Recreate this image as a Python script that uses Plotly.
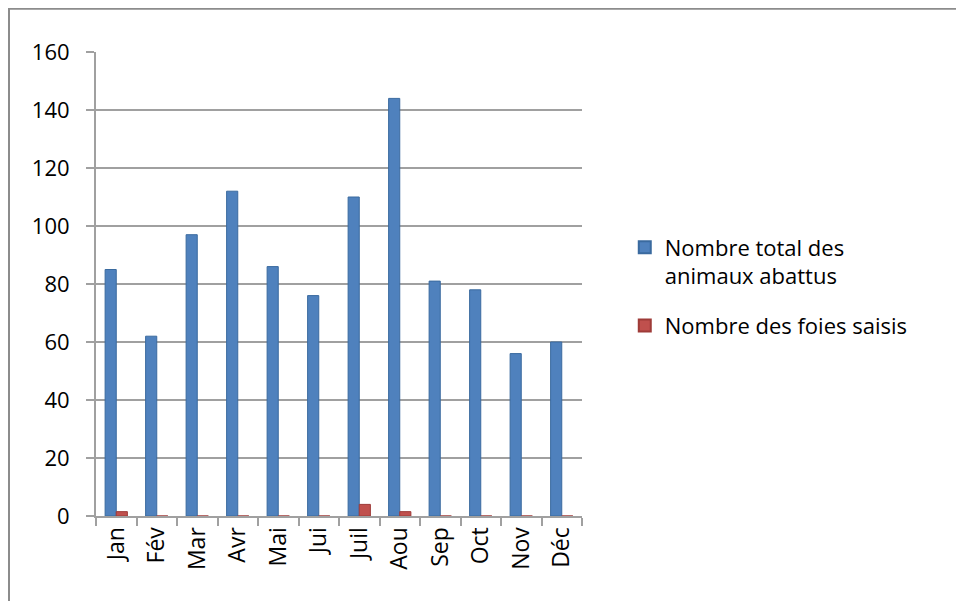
import plotly.graph_objects as go

mois = ['Jan', 'Fév', 'Mar', 'Avr', 'Mai', 'Jui', 'Juil', 'Aou', 'Sep', 'Oct', 'Nov', 'Déc']
total_abattus = [85, 62, 97, 112, 86, 76, 110, 144, 81, 78, 56, 60]
foies_saisis = [1.5, 0, 0, 0, 0, 0, 4, 1.5, 0, 0, 0, 0]

BLEU = '#4F81BD'
ROUGE = '#C0504D'
GRIS = '#A0A0A0'
police = 'Open Sans, Liberation Sans, sans-serif'

fig = go.Figure()

fig.add_trace(go.Bar(
    x=mois,
    y=total_abattus,
    name='Nombre total des<br>animaux abattus',
    legendgroup='total',
    marker=dict(color=BLEU, line=dict(color='#3A6A9F', width=1))
))

fig.add_trace(go.Bar(
    x=mois,
    y=foies_saisis,
    name='Nombre des foies saisis',
    legendgroup='foies',
    marker=dict(color=ROUGE, line=dict(color='#9E3B38', width=1))
))

fig.update_layout(
    width=964,
    height=601,
    paper_bgcolor='white',
    plot_bgcolor='white',
    margin=dict(l=88, r=390, t=44, b=93),
    barmode='group',
    bargap=0.45,
    bargroupgap=0,
    font=dict(family=police, size=22, color='black'),
    showlegend=True,
    legend=dict(
        x=1.088, y=0.624,
        xanchor='left', yanchor='top',
        font=dict(size=22),
        tracegroupgap=18,
        valign='top',
        itemsizing='constant',
    ),
    xaxis=dict(
        showgrid=False,
        showline=True,
        linecolor=GRIS,
        linewidth=2,
        ticks='outside',
        tickson='boundaries',
        ticklen=8,
        tickcolor=GRIS,
        tickwidth=2,
        tickangle=-90,
        tickfont=dict(size=23),
    ),
    yaxis=dict(
        range=[0, 160],
        dtick=20,
        showgrid=True,
        gridcolor=GRIS,
        gridwidth=2,
        showline=True,
        linecolor=GRIS,
        linewidth=2,
        ticks='outside',
        ticklen=8,
        tickcolor=GRIS,
        tickwidth=2,
        ticklabelstandoff=12,
        tickfont=dict(size=22),
        zeroline=False,
    ),
)

# Cadre de la zone du graphique (bords gauche et haut visibles)
fig.add_shape(
    type='rect', xref='paper', yref='paper',
    x0=-0.179, y0=-0.3, x1=1.9, y1=1.093,
    line=dict(color='#8C8C8C', width=2),
    fillcolor='rgba(0,0,0,0)',
    layer='below',
)

fig.write_html("out.html")
